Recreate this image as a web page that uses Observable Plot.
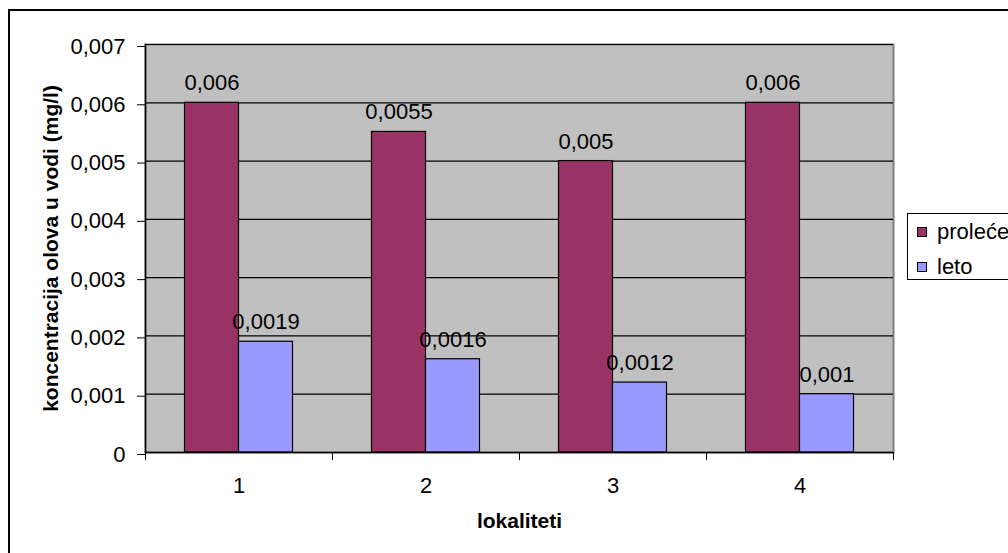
<!DOCTYPE html>
<html>
<head>
<meta charset="utf-8">
<script src="https://cdn.jsdelivr.net/npm/d3@7"></script>
<script src="https://cdn.jsdelivr.net/npm/@observablehq/plot@0.6"></script>
<style>
  html, body { margin: 0; padding: 0; background: #fff; }
  #wrap { position: relative; width: 1008px; height: 553px; overflow: hidden; font-family: "Liberation Sans", Arial, sans-serif; }
  #border { position: absolute; left: 8px; top: 9px; width: 1200px; height: 800px; border-left: 2px solid #000; border-top: 2px solid #000; box-sizing: border-box; }
  #chart { position: absolute; left: 0; top: 0; }
  #legend { position: absolute; left: 907px; top: 213px; width: 160px; height: 67px; border: 1px solid #000; box-sizing: border-box; background: #fff; font-size: 22px; color: #000; }
  .item { position: absolute; left: 9px; height: 24px; display: flex; align-items: center; white-space: nowrap; }
  .sw { width: 10px; height: 10px; border: 1px solid #000; box-sizing: border-box; margin-right: 10px; }
</style>
</head>
<body>
<div id="wrap">
  <div id="border"></div>
  <div id="chart"></div>
  <div id="legend"></div>
</div>
<script>
// ---- data ----
const categories = ["1", "2", "3", "4"];
const series = ["proleće", "leto"];
const proleceValues = [0.006, 0.0055, 0.005, 0.006];
const letoValues = [0.0019, 0.0016, 0.0012, 0.001];
const seriesColors = ["#993366", "#9999FF"];
const yTicks = [0, 0.001, 0.002, 0.003, 0.004, 0.005, 0.006, 0.007];
const yTickLabels = ["0", "0,001", "0,002", "0,003", "0,004", "0,005", "0,006", "0,007"];
const xTitle = "lokaliteti";
const yTitle = "koncentracija olova u vodi (mg/l)";

// ---- layout ----
const W = 1008, H = 553;
const mL = 145, mR = 115, mT = 44, mB = 101;
const bw = (W - mL - mR) / categories.length;
const barW = 54;
const gap = (bw - 2 * barW) / 2;

const fmt = v => String(v).replace(".", ",");
const prolece = categories.map((c, i) => ({cat: c, series: series[0], value: proleceValues[i]}));
const leto = categories.map((c, i) => ({cat: c, series: series[1], value: letoValues[i]}));

const chart = Plot.plot({
  width: W,
  height: H,
  marginLeft: mL,
  marginRight: mR,
  marginTop: mT,
  marginBottom: mB,
  style: {fontFamily: "'Liberation Sans', Arial, sans-serif", fontSize: "22px", color: "#000", background: "transparent"},
  x: {type: "band", domain: categories, padding: 0},
  y: {domain: [0, 0.007]},
  color: {domain: series, range: seriesColors},
  marks: [
    Plot.frame({fill: "#C0C0C0", stroke: "#808080", strokeWidth: 2}),
    Plot.ruleY(yTicks.slice(1), {stroke: "#000", strokeWidth: 1.2}),
    Plot.barY(prolece, {x: "cat", y: "value", fill: "series", stroke: "#000", strokeWidth: 1.2, insetLeft: gap, insetRight: gap + barW}),
    Plot.barY(leto, {x: "cat", y: "value", fill: "series", stroke: "#000", strokeWidth: 1.2, insetLeft: gap + barW, insetRight: gap}),
    Plot.text(prolece, {x: "cat", y: "value", text: d => fmt(d.value), dx: -barW / 2, dy: -19.5, fill: "#000"}),
    Plot.text(leto, {x: "cat", y: "value", text: d => fmt(d.value), dx: barW / 2, dy: -19.5, fill: "#000"}),
    Plot.axisY({ticks: yTicks, tickFormat: (d) => yTickLabels[yTicks.indexOf(d)], tickSize: 8, tickPadding: 12, dy: 2, label: null, stroke: "#000"}),
    Plot.axisX({tickSize: 0, tickPadding: 25, label: null}),
    Plot.axisX({ticks: categories, tickSize: 8, text: null, dx: -bw / 2, label: null, stroke: "#000"}),
    Plot.axisX({ticks: categories.slice(-1), tickSize: 8, text: null, dx: bw / 2, label: null, stroke: "#000"}),
    Plot.ruleY([0], {stroke: "#000", strokeWidth: 1.5}),
    Plot.frame({anchor: "left", stroke: "#000", strokeWidth: 1.5}),
    Plot.text([xTitle], {text: d => d, frameAnchor: "bottom", lineAnchor: "middle", dy: 69, fontSize: 21, fontWeight: "bold", fill: "#000"}),
    Plot.text([yTitle], {text: d => d, frameAnchor: "left", textAnchor: "middle", lineAnchor: "middle", dx: -94, rotate: -90, fontSize: 21, fontWeight: "bold", fill: "#000"})
  ]
});
document.getElementById("chart").appendChild(chart);

// ---- legend ----
const legend = document.getElementById("legend");
series.forEach((s, i) => {
  const item = document.createElement("div");
  item.className = "item";
  item.style.top = (6 + i * 35) + "px";
  const sw = document.createElement("span");
  sw.className = "sw";
  sw.style.background = seriesColors[i];
  const t = document.createElement("span");
  t.textContent = s;
  item.appendChild(sw);
  item.appendChild(t);
  legend.appendChild(item);
});
</script>
</body>
</html>
